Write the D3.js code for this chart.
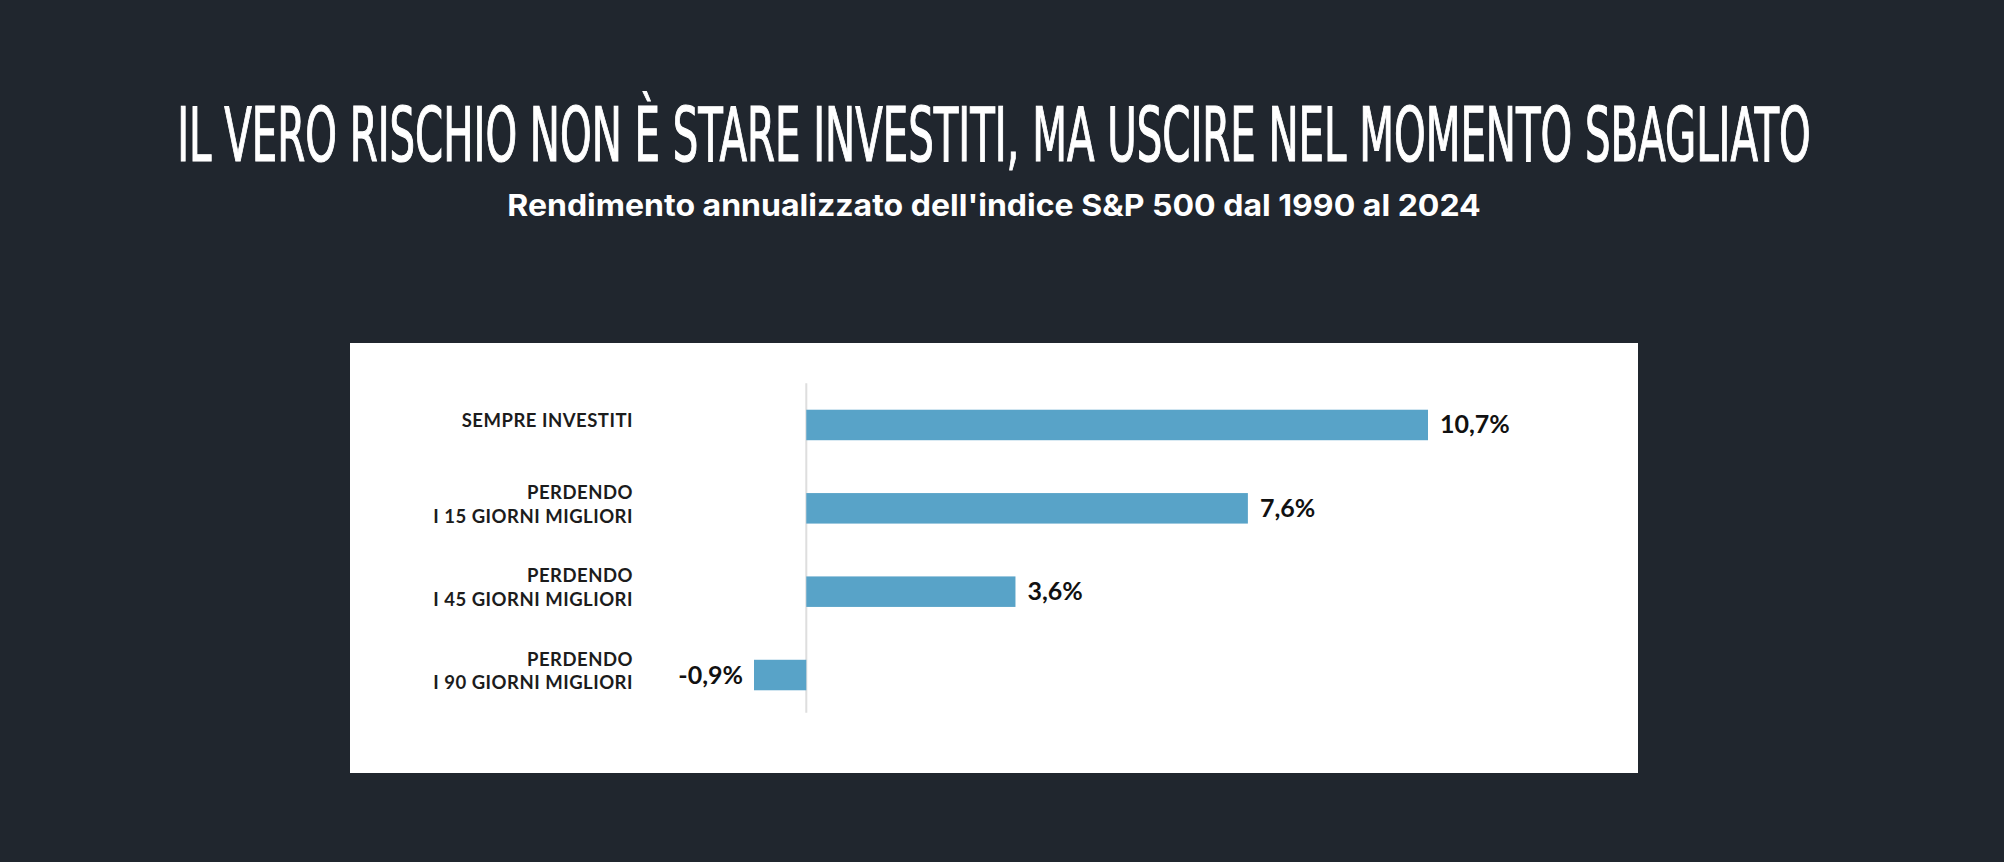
<!DOCTYPE html>
<html>
<head>
<meta charset="utf-8">
<script src="https://cdn.jsdelivr.net/npm/d3@7"></script>
<style>
  html, body { margin: 0; padding: 0; background: #20262e; }
  svg { display: block; }
</style>
</head>
<body>
<svg id="chart"></svg>
<script>
// chart data
var titleText = "IL VERO RISCHIO NON È STARE INVESTITI, MA USCIRE NEL MOMENTO SBAGLIATO";
var subtitleText = "Rendimento annualizzato dell'indice S&P 500 dal 1990 al 2024";
var categories = [
  ["SEMPRE INVESTITI"],
  ["PERDENDO", "I 15 GIORNI MIGLIORI"],
  ["PERDENDO", "I 45 GIORNI MIGLIORI"],
  ["PERDENDO", "I 90 GIORNI MIGLIORI"]
];
var values = [10.7, 7.6, 3.6, -0.9];

var W = 2004, H = 862;
var svg = d3.select("#chart").attr("width", W).attr("height", H);

var it = d3.formatLocale({decimal: ",", thousands: ".", grouping: [3], currency: ["€", ""], minus: "-"});
var fmt = it.format(".1f");

// squeeze a centred text into a given width
function fitText(sel, cx, cy, w){
  var len = sel.node().getComputedTextLength();
  sel.attr("transform", "translate(" + cx + "," + cy + ") scale(" + (w / len) + ",1)");
}

// titles
var title = svg.append("text")
  .attr("text-anchor", "middle")
  .style("font-family", "'Liberation Sans Narrow', 'DejaVu Sans Condensed', sans-serif")
  .style("font-weight", "400")
  .style("font-size", "74px")
  .attr("fill", "#ffffff")
  .attr("stroke", "#ffffff")
  .attr("stroke-width", 1.2)
  .text(titleText);
fitText(title, 994, 161, 1634);

var subtitle = svg.append("text")
  .attr("text-anchor", "middle")
  .style("font-family", "Inter, sans-serif")
  .style("font-weight", "700")
  .style("font-size", "30px")
  .attr("fill", "#ffffff")
  .text(subtitleText);
fitText(subtitle, 994, 216, 974);

// white panel
svg.append("rect")
  .attr("x", 350).attr("y", 343)
  .attr("width", 1288).attr("height", 430)
  .attr("fill", "#ffffff");

var data = categories.map(function(c, i){ return {lines: c, value: values[i], key: c.join(" ")}; });

var x = d3.scaleLinear()
  .domain([d3.min(values), d3.max(values)])
  .range([754, 1428]);

var y = d3.scaleBand()
  .domain(data.map(function(d){ return d.key; }))
  .range([383.3, 716.7])
  .paddingInner(0.634)
  .paddingOuter(0.317);

var g = svg.append("g");

// zero line
g.append("line")
  .attr("x1", x(0)).attr("x2", x(0))
  .attr("y1", y.range()[0]).attr("y2", y.range()[1] - 4)
  .attr("stroke", "#dedede")
  .attr("stroke-width", 2);

g.selectAll(".bar")
  .data(data)
  .enter().append("rect")
    .attr("class", "bar")
    .attr("x", function(d){ return x(Math.min(0, d.value)); })
    .attr("width", function(d){ return Math.abs(x(d.value) - x(0)); })
    .attr("y", function(d){ return y(d.key); })
    .attr("height", y.bandwidth())
    .attr("fill", "#58a3c8");

// value labels
g.selectAll(".val")
  .data(data)
  .enter().append("text")
    .attr("class", "val")
    .attr("x", function(d){ return d.value < 0 ? x(d.value) - 11 : x(d.value) + 12; })
    .attr("y", function(d){ return y(d.key) + y.bandwidth() / 2 + 8.5; })
    .attr("text-anchor", function(d){ return d.value < 0 ? "end" : "start"; })
    .style("font-family", "Lato, sans-serif")
    .style("font-weight", "700")
    .style("font-size", "25px")
    .attr("fill", "#111111")
    .text(function(d){ return fmt(d.value) + "%"; });

// category labels
var lineH = 23.5;
var cat = g.selectAll(".cat")
  .data(data)
  .enter().append("text")
    .attr("class", "cat")
    .attr("text-anchor", "end")
    .style("font-family", "Lato, sans-serif")
    .style("font-weight", "700")
    .style("font-size", "18.5px")
    .style("letter-spacing", "0.5px")
    .attr("fill", "#1c1c1c");

cat.each(function(d){
  var c = y(d.key) + y.bandwidth() / 2 - 4;
  var first = c - (d.lines.length - 1) * lineH / 2 + 6.5;
  d3.select(this).selectAll("tspan")
    .data(d.lines)
    .enter().append("tspan")
      .attr("x", 633)
      .attr("y", function(l, i){ return first + i * lineH; })
      .text(function(l){ return l; });
});
</script>
</body>
</html>
